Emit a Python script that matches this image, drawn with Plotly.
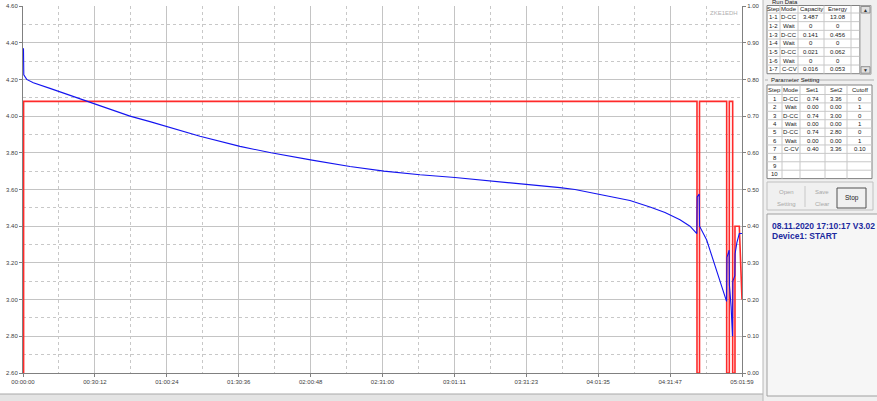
import plotly.graph_objects as go

# ---- data ----
# cell voltage (left axis), time in seconds
volt_t = [12, 20, 93, 260, 680, 1101, 1520, 1940, 2444, 2696, 3200, 3654, 4460,
          5468, 6250, 7283, 8240, 9097, 10004, 10886, 11768, 12701, 13532, 13910,
          14515, 15296, 15800, 16178, 16556, 16808, 16980,
          16990, 17040,
          17050, 17229, 17396, 17564, 17690, 17730,
          17740, 17795,
          17802, 17845, 17880,
          17888, 17938,
          17945, 17990, 18030, 18051, 18119]
volt_v = [4.37, 4.225, 4.200, 4.182, 4.151, 4.119, 4.088, 4.055, 4.021, 4.000, 3.970, 3.940, 3.890,
          3.835, 3.800, 3.760, 3.725, 3.700, 3.680, 3.665, 3.648, 3.630, 3.610, 3.600,
          3.575, 3.540, 3.505, 3.475, 3.435, 3.400, 3.360,
          3.560, 3.575,
          3.400, 3.325, 3.215, 3.107, 3.017, 2.990,
          3.230, 3.270,
          3.080, 2.960, 2.800,
          3.100, 3.130,
          3.250, 3.310, 3.345, 3.360, 3.360]

# current (right axis)
cur_t = [15, 15, 16985, 16985, 17048, 17048, 17733, 17733, 17799, 17799,
         17884, 17884, 17942, 17942, 18051, 18085, 18119]
cur_a = [0.0, 0.74, 0.74, 0.0, 0.0, 0.74, 0.74, 0.0, 0.0, 0.74,
         0.74, 0.0, 0.0, 0.40, 0.40, 0.30, 0.20]

x_labels = ["00:00:00", "00:30:12", "01:00:24", "01:30:36", "02:00:48", "02:31:00",
            "03:01:11", "03:31:23", "04:01:35", "04:31:47", "05:01:59"]

run_cols = ["Step", "Mode", "Capacity", "Energy"]
run_rows = [["1-1", "D-CC", "3.487", "13.08"],
            ["1-2", "Wait", "0", "0"],
            ["1-3", "D-CC", "0.141", "0.456"],
            ["1-4", "Wait", "0", "0"],
            ["1-5", "D-CC", "0.021", "0.062"],
            ["1-6", "Wait", "0", "0"],
            ["1-7", "C-CV", "0.016", "0.053"]]

par_cols = ["Step", "Mode", "Set1", "Set2", "Cutoff"]
par_rows = [["1", "D-CC", "0.74", "3.36", "0"],
            ["2", "Wait", "0.00", "0.00", "1"],
            ["3", "D-CC", "0.74", "3.00", "0"],
            ["4", "Wait", "0.00", "0.00", "1"],
            ["5", "D-CC", "0.74", "2.80", "0"],
            ["6", "Wait", "0.00", "0.00", "1"],
            ["7", "C-CV", "0.40", "3.36", "0.10"],
            ["8", "", "", "", ""],
            ["9", "", "", "", ""],
            ["10", "", "", "", ""]]

status_lines = ["08.11.2020 17:10:17 V3.02", "Device1: START"]

# ---- helpers (pixel -> paper, margins are zero) ----
W, H = 877, 401
FONT = "Liberation Sans"


def px(x):
    return x / W


def py(y):
    return 1 - y / H


shapes = []
annotations = []


def rect(x0, y0, x1, y1, fill=None, line="#a0a0a0", lw=1):
    shapes.append(dict(type="rect", xref="paper", yref="paper",
                       x0=px(x0), x1=px(x1), y0=py(y1), y1=py(y0),
                       fillcolor=fill or "rgba(0,0,0,0)",
                       line=dict(color=line, width=lw if line else 0), layer="above"))


def hline(x0, x1, y, color="#c8c8c8"):
    shapes.append(dict(type="line", xref="paper", yref="paper",
                       x0=px(x0), x1=px(x1), y0=py(y), y1=py(y),
                       line=dict(color=color, width=1), layer="above"))


def vline(x, y0, y1, color="#c8c8c8"):
    shapes.append(dict(type="line", xref="paper", yref="paper",
                       x0=px(x), x1=px(x), y0=py(y0), y1=py(y1),
                       line=dict(color=color, width=1), layer="above"))


def text(x, y, s, size=6, color="#202020", anchor="center", bold=False):
    if bold:
        s = "<b>" + s + "</b>"
    annotations.append(dict(x=px(x), y=py(y), xref="paper", yref="paper", text=s,
                            showarrow=False, xanchor=anchor, yanchor="middle",
                            font=dict(family=FONT, size=size, color=color)))


def table(edges, top, head_h, row_h, cols, rows):
    bottom = top + head_h + row_h * len(rows)
    rect(edges[0], top, edges[-1], bottom, fill="white", line="#808080")
    for e in edges[1:-1]:
        vline(e, top, bottom)
    hline(edges[0], edges[-1], top + head_h)
    for i in range(1, len(rows)):
        hline(edges[0], edges[-1], top + head_h + i * row_h)
    for j, c in enumerate(cols):
        text((edges[j] + edges[j + 1]) / 2, top + head_h / 2, c)
    for i, r in enumerate(rows):
        yc = top + head_h + (i + 0.5) * row_h
        for j, v in enumerate(r):
            text((edges[j] + edges[j + 1]) / 2, yc, v)
    return bottom


# ---- chart ----
tick_s = []
for lab in x_labels:
    h, m, s = lab.split(":")
    tick_s.append(int(h) * 3600 + int(m) * 60 + int(s))
minor_s = [(a + b) / 2 for a, b in zip(tick_s[:-1], tick_s[1:])]

fig = go.Figure()
fig.add_trace(go.Scatter(x=cur_t, y=cur_a, mode="lines", yaxis="y",
                         line=dict(color="#ff2a2a", width=1.6), hoverinfo="skip"))
fig.add_trace(go.Scatter(x=volt_t, y=volt_v, mode="lines", yaxis="y2",
                         line=dict(color="#1414f0", width=1.1), hoverinfo="skip"))

axis_col = "#808080"
tfont = dict(family=FONT, size=6, color="#404040")
ydom = [py(373), py(6)]

fig.update_layout(
    width=W, height=H,
    margin=dict(l=0, r=0, t=0, b=0, autoexpand=False),
    paper_bgcolor="white", plot_bgcolor="white",
    showlegend=False,
    xaxis=dict(domain=[px(23), px(742)], range=[0, tick_s[-1]],
               tickvals=tick_s, ticktext=x_labels, tickfont=tfont,
               ticks="outside", ticklen=3, tickcolor=axis_col,
               showline=True, linecolor=axis_col, zeroline=False,
               showgrid=True, gridcolor="#c4c4c4", gridwidth=1,
               minor=dict(tickvals=minor_s, showgrid=True, gridcolor="#c8c8c8",
                          griddash="dot", ticks="")),
    yaxis=dict(domain=ydom, range=[0, 1], dtick=0.1, tick0=0, tickformat=".2f",
               side="right", anchor="x", tickfont=tfont,
               ticks="outside", ticklen=3, tickcolor=axis_col,
               showline=True, linecolor=axis_col, zeroline=False,
               showgrid=True, gridcolor="#c4c4c4",
               minor=dict(dtick=0.05, showgrid=True, gridcolor="#c8c8c8",
                          griddash="dot", ticks="")),
    yaxis2=dict(range=[2.6, 4.6], dtick=0.2, tick0=2.6, tickformat=".2f",
                overlaying="y", side="left", anchor="x", tickfont=tfont,
                ticks="outside", ticklen=3, tickcolor=axis_col,
                showline=True, linecolor=axis_col, zeroline=False, showgrid=False),
)

# watermark
text(740, 13, "ZKE1EDH", size=6, color="#b0b0b0", anchor="right")

# bottom status strip
rect(-2, 394, 764, 403, fill="#e4e4e4", line="#a8a8a8")

# right control panel
rect(763, -2, 879, 403, fill="#f0f0f0", line="#b8b8b8")
text(770, 1.5, "Run Data", size=6, anchor="left")
table([767, 780, 798, 824, 851, 860], 5.5, 7.5, 8.67, run_cols + [""],
      [r + [""] for r in run_rows])
# scroll bar
rect(860, 5.5, 871, 74.2, fill="#ececec", line="#a0a0a0")
rect(861, 6.5, 870, 13, fill="#e0e0e0", line="#909090")
rect(861, 66.7, 870, 73.2, fill="#e0e0e0", line="#909090")
text(865.5, 9.8, "▲", size=5, color="#303030")
text(865.5, 70, "▼", size=5, color="#303030")

# parameter group
hline(765, 768, 80, color="#b0b0b0")
hline(803, 874, 80, color="#b0b0b0")
text(769, 80, "Parameter Setting", size=6, anchor="left")
table([767, 782, 800, 825, 847, 872], 85, 9.5, 8.41, par_cols, par_rows)

# buttons
rect(767, 182, 873, 210, fill=None, line="#c0c0c0")
vline(805, 186, 207, color="#c8c8c8")
text(786, 192, "Open", size=6, color="#a8a8a8")
text(786, 204, "Setting", size=6, color="#a8a8a8")
text(822, 192, "Save", size=6, color="#a8a8a8")
text(822, 204, "Clear", size=6, color="#a8a8a8")
rect(837, 188, 866, 208, fill="#f0f0f0", line="#505050")
text(851.5, 198, "Stop", size=6.5, color="#202020")

# status box
rect(767, 214, 880, 396, fill="#f6f6f6", line="#a0a0a0")
text(770, 226, status_lines[0], size=8.5, color="#1c2a9e", anchor="left", bold=True)
text(770, 236, status_lines[1], size=8.5, color="#1c2a9e", anchor="left", bold=True)

fig.update_layout(shapes=shapes, annotations=annotations)
# page body margin would shift the figure by 8px
fig.write_html("out.html", config={"displayModeBar": False},
               post_script="document.body.style.margin='0px';")
